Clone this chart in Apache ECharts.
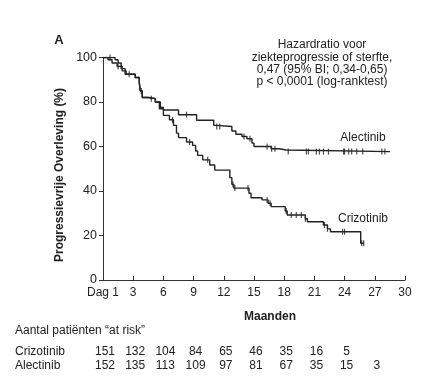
<!DOCTYPE html>
<html><head><meta charset="utf-8">
<script src="https://cdn.jsdelivr.net/npm/echarts@6/dist/echarts.min.js"></script>
<style>html,body{margin:0;padding:0;background:#fff}#c{width:436px;height:389px}</style>
</head><body><div id="c"></div>
<script>
// KM step data: [month, survival %] (value after each drop)
var crizotinib = [[0,100],[0.5,99],[0.9,97.5],[1.4,96],[1.9,94],[2.3,92.5],[3.2,91],[3.6,89],[3.7,85],[3.9,82],[4.5,81.5],[5.2,80],[5.6,77],[6.0,74],[6.6,72],[7.0,69.5],[7.3,66],[7.5,64],[8.3,62],[8.9,60.5],[9.2,58],[9.4,56],[9.9,54],[10.6,51.7],[11.1,49.4],[12.6,46],[12.8,43],[13.0,41.3],[14.5,39],[14.7,37],[15.8,36],[16.4,34.5],[16.7,33],[18.1,31],[18.3,29.2],[20.1,27.5],[20.3,26.2],[21.9,24.7],[22.3,23],[22.6,21.7],[25.6,16.5],[25.9,16.5]];
var alectinib = [[0,100],[1.2,99],[1.5,97.5],[1.8,95],[2.2,92.5],[3.2,91],[3.6,89],[3.7,85],[3.9,82],[4.5,81.5],[5.2,80],[5.7,77.5],[6.0,76.4],[7.5,74.3],[9.3,71.8],[11.0,69.5],[11.3,69],[12.8,67],[13.2,65.5],[13.8,64.5],[14.3,63.5],[14.8,61.5],[15.0,60],[16.7,59],[17.5,58.4],[18.2,57.7],[28.5,57.7]];
var crizotinibCensored = [1.5,3.8,6.9,8.6,10.4,12.9,13.1,14.4,16.3,16.6,18.2,18.7,19.2,19.7,20.1,22.0,22.3,23.8,24.0,25.7,25.9];
var alectinibCensored = [0.7,2.6,4.8,8.3,11.3,11.6,14.0,14.6,16.3,16.75,17.08,18.4,20.2,20.4,21.2,21.5,21.9,22.4,23.9,24.0,24.4,24.7,25.2,25.8,27.7,28.0];
var xTicks = [0,3,6,9,12,15,18,21,24,27,30];
var riskMonths = [0,3,6,9,12,15,18,21,24,27];
var riskCrizotinib = [151,132,104,84,65,46,35,16,5];
var riskAlectinib = [152,135,113,109,97,81,67,35,15,3];
var hrLines = ['Hazardratio voor','ziekteprogressie of sterfte,','0,47 (95% BI; 0,34-0,65)','p < 0,0001 (log-ranktest)'];

var FONT = '"Liberation Sans", Arial, sans-serif';
var TXT = '#222';
function stepAt(data, t){ var v = data[0][1]; for (var i=0;i<data.length;i++){ if (data[i][0] <= t) v = data[i][1]; } return v; }
function censorPts(data, times){ return times.map(function(t){ return [t, stepAt(data,t)]; }); }

var chart = echarts.init(document.getElementById('c'));
var option = {
  animation:false,
  grid:{left:103, right:31, top:57.5, bottom:109},
  xAxis:{type:'value', min:0, max:30, interval:3,
    axisLine:{lineStyle:{color:'#333', width:1}},
    axisTick:{inside:true, length:4, lineStyle:{color:'#333'}},
    splitLine:{show:false},
    axisLabel:{margin:7, fontSize:12, color:TXT, fontFamily:FONT,
      formatter:function(v){ return v===0 ? 'Dag 1' : String(v); }}},
  yAxis:{type:'value', min:0, max:100, interval:20,
    axisLine:{show:true, lineStyle:{color:'#333', width:1}},
    axisTick:{show:true, length:4, lineStyle:{color:'#333'}},
    splitLine:{show:false},
    axisLabel:{margin:6, fontSize:12.5, color:TXT, fontFamily:FONT}},
  series:[
    {type:'line', name:'Crizotinib', step:'end', data:crizotinib, showSymbol:false, symbol:'none',
      lineStyle:{color:'#222', width:1.4}},
    {type:'line', name:'Alectinib', step:'end', data:alectinib, showSymbol:false, symbol:'none',
      lineStyle:{color:'#222', width:1.4}},
    {type:'scatter', data:censorPts(crizotinib, crizotinibCensored), symbol:'rect', symbolSize:[1.2,6],
      itemStyle:{color:'#222'}},
    {type:'scatter', data:censorPts(alectinib, alectinibCensored), symbol:'rect', symbolSize:[1.2,6],
      itemStyle:{color:'#222'}}
  ]
};
chart.setOption(option);

var g = [];
function txt(x,y,s,opt){ opt=opt||{}; g.push({type:'text', x:x, y:y, rotation:opt.rot||0,
  style:{text:s, fontSize:opt.size||12, fontWeight:opt.bold?'bold':'normal', fill:TXT, fontFamily:FONT,
  textAlign:opt.align||'center', textVerticalAlign:'middle'}}); }
txt(59,40,'A',{bold:true,size:13});
hrLines.forEach(function(l,i){ txt(322, 45+i*12.3, l); });
txt(363,138,'Alectinib');
txt(363,219,'Crizotinib');
txt(60,175,'Progressievrije Overleving (%)',{bold:true, rot:Math.PI/2});
txt(270,317,'Maanden',{bold:true});
txt(15,331,'Aantal patiënten \u201cat risk\u201d',{align:'left'});
txt(15,352,'Crizotinib',{align:'left'});
txt(15,366,'Alectinib',{align:'left'});
riskCrizotinib.forEach(function(v,i){ var px = chart.convertToPixel({gridIndex:0},[riskMonths[i],0])[0]; txt(px+2,352,String(v)); });
riskAlectinib.forEach(function(v,i){ var px = chart.convertToPixel({gridIndex:0},[riskMonths[i],0])[0]; txt(px+2,366,String(v)); });
chart.setOption({graphic:g});
</script></body></html>
